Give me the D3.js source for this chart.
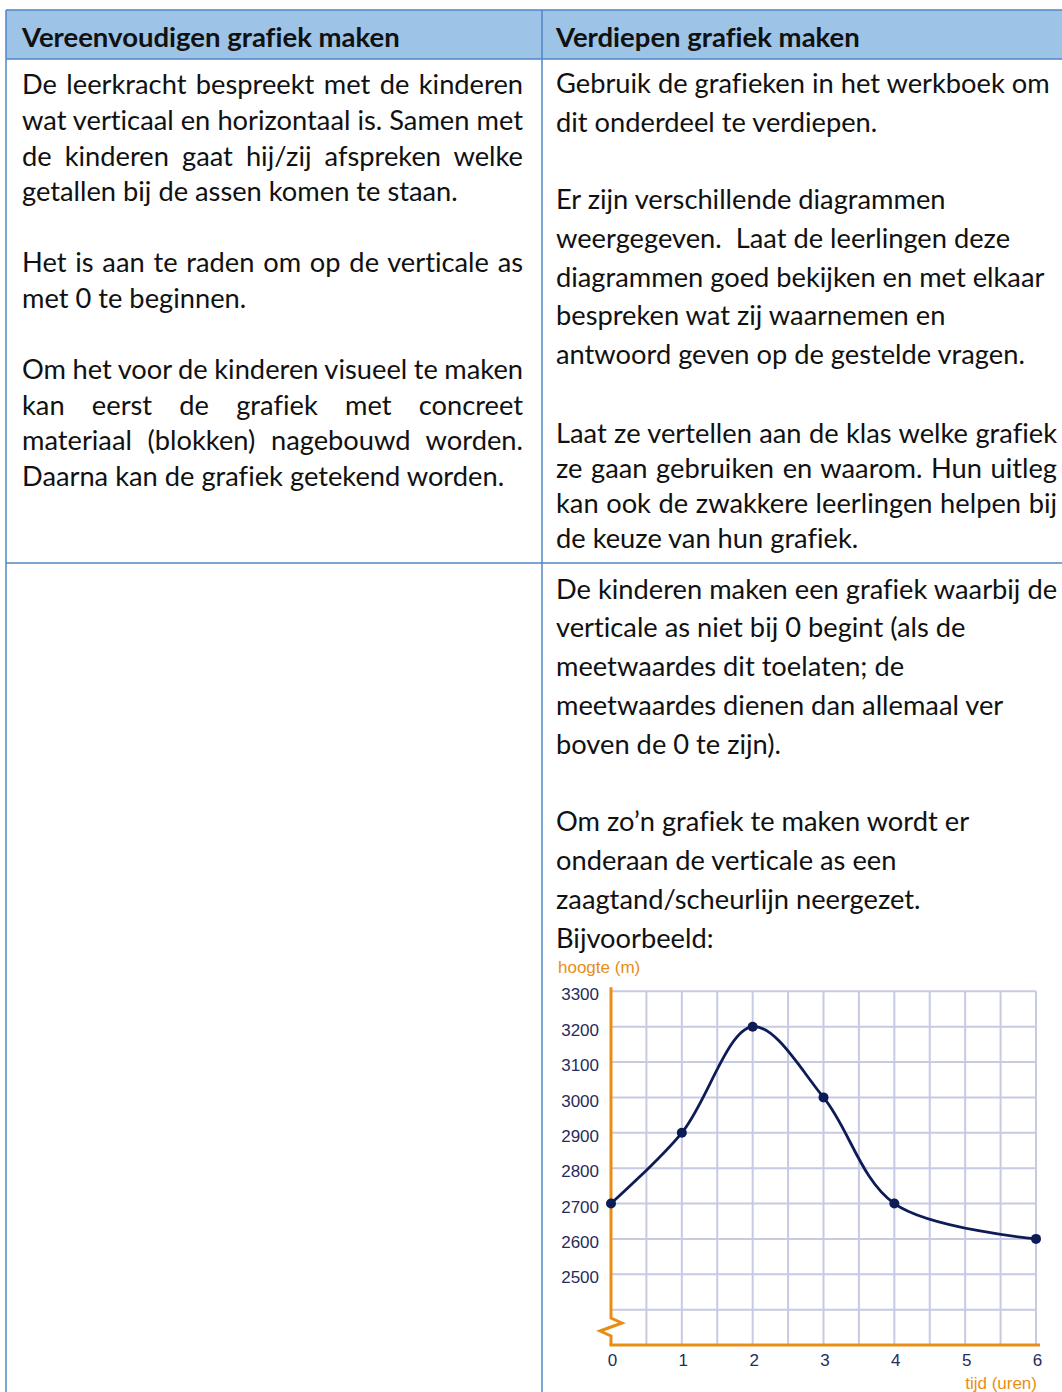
<!DOCTYPE html>
<html>
<head>
<meta charset="utf-8">
<script src="https://cdn.jsdelivr.net/npm/d3@7"></script>
<style>
  html, body { margin: 0; padding: 0; background: #fff; }
  svg { display: block; }
  svg text { font-variant-ligatures: none; }
</style>
</head>
<body>
<div id="page"></div>
<script>
// chart data
var tijd = [0, 1, 2, 3, 4, 6];
var hoogte = [2700, 2900, 3200, 3000, 2700, 2600];
var yTickLabels = [2500, 2600, 2700, 2800, 2900, 3000, 3100, 3200, 3300];
var yGridValues = [2400, 2500, 2600, 2700, 2800, 2900, 3000, 3100, 3200, 3300];
var xTickLabels = [0, 1, 2, 3, 4, 5, 6];
var xGridValues = [0.5, 1, 1.5, 2, 2.5, 3, 3.5, 4, 4.5, 5, 5.5, 6];
var yAxisTitle = 'hoogte (m)';
var xAxisTitle = 'tijd (uren)';

// table text
var headers = ['Vereenvoudigen grafiek maken', 'Verdiepen grafiek maken'];
var leftLines = [
  ['De leerkracht bespreekt met de kinderen', true],
  ['wat verticaal en horizontaal is. Samen met', true],
  ['de kinderen gaat hij/zij afspreken welke', true],
  ['getallen bij de assen komen te staan.', false],
  ['', false],
  ['Het is aan te raden om op de verticale as', true],
  ['met 0 te beginnen.', false],
  ['', false],
  ['Om het voor de kinderen visueel te maken', true],
  ['kan eerst de grafiek met concreet', true],
  ['materiaal (blokken) nagebouwd worden.', true],
  ['Daarna kan de grafiek getekend worden.', false]
];
var rightLinesA = [
  'Gebruik de grafieken in het werkboek om',
  'dit onderdeel te verdiepen.',
  '',
  'Er zijn verschillende diagrammen',
  'weergegeven.\u00a0 Laat de leerlingen deze',
  'diagrammen goed bekijken en met elkaar',
  'bespreken wat zij waarnemen en',
  'antwoord geven op de gestelde vragen.'
];
var rightLinesB = [
  ['Laat ze vertellen aan de klas welke grafiek', true],
  ['ze gaan gebruiken en waarom. Hun uitleg', true],
  ['kan ook de zwakkere leerlingen helpen bij', true],
  ['de keuze van hun grafiek.', false]
];
var rightLinesC = [
  'De kinderen maken een grafiek waarbij de',
  'verticale as niet bij 0 begint (als de',
  'meetwaardes dit toelaten; de',
  'meetwaardes dienen dan allemaal ver',
  'boven de 0 te zijn).',
  '',
  'Om zo\u2019n grafiek te maken wordt er',
  'onderaan de verticale as een',
  'zaagtand/scheurlijn neergezet.',
  'Bijvoorbeeld:'
];

var W = 1062, H = 1392;
var borderColor = '#4f86c6';
var headFill = '#9dc3e6';
var textColor = '#111111';
var orange = '#e88e14';
var navy = '#0d1b57';
var gridColor = '#c6cae2';
var bodyFont = 'Lato, "Open Sans", sans-serif';
var chartFont = '"Liberation Sans", Arial, sans-serif';

var svg = d3.select('#page').append('svg')
  .attr('width', W)
  .attr('height', H);

// table frame
var colLeft = 6, colMid = 542, colRight = 1070;
svg.append('rect')
  .attr('x', colLeft).attr('y', 10)
  .attr('width', colRight - colLeft).attr('height', 49)
  .attr('fill', headFill);

var frame = svg.append('g').attr('stroke', borderColor).attr('stroke-width', 1.5);
frame.append('line').attr('x1', colLeft).attr('x2', colRight).attr('y1', 10).attr('y2', 10);
frame.append('line').attr('x1', colLeft).attr('x2', colRight).attr('y1', 59).attr('y2', 59);
frame.append('line').attr('x1', colLeft).attr('x2', colRight).attr('y1', 563).attr('y2', 563);
frame.append('line').attr('x1', colLeft).attr('x2', colLeft).attr('y1', 10).attr('y2', H);
frame.append('line').attr('x1', colMid).attr('x2', colMid).attr('y1', 10).attr('y2', H);

// calibrate font size against the reference line widths
function fitSize(str, weight, target) {
  var t = svg.append('text').attr('font-family', bodyFont).attr('font-weight', weight)
    .attr('font-size', 100).text(str);
  var w = t.node().getComputedTextLength();
  t.remove();
  return 100 * target / w;
}
var bodySize = fitSize('Gebruik de grafieken in het werkboek om', 400, 494);
var headSize = fitSize('Vereenvoudigen grafiek maken', 700, 378);

svg.selectAll('text.head')
  .data(headers)
  .join('text')
  .attr('class', 'head')
  .attr('x', function (d, i) { return i === 0 ? 22 : 556; })
  .attr('y', 47)
  .attr('font-family', bodyFont)
  .attr('font-weight', 700)
  .attr('font-size', headSize)
  .attr('fill', textColor)
  .text(function (d) { return d; });

function writeLines(lines, x, y0, step, right) {
  lines.forEach(function (l, i) {
    var str = typeof l === 'string' ? l : l[0];
    var just = typeof l === 'string' ? false : l[1];
    if (!str) return;
    var t = svg.append('text')
      .attr('x', x)
      .attr('y', y0 + i * step)
      .attr('font-family', bodyFont)
      .attr('font-size', bodySize)
      .attr('fill', textColor)
      .style('white-space', 'pre')
      .text(str);
    if (just) {
      var gaps = str.split(' ').length - 1;
      var extra = (right - x) - t.node().getComputedTextLength();
      if (gaps > 0) t.style('word-spacing', (extra / gaps) + 'px');
    }
  });
}

writeLines(leftLines, 22, 94.3, 35.6, 523);
writeLines(rightLinesA, 556, 93.2, 38.7, 1057);
writeLines(rightLinesB, 556, 443.3, 35, 1057);
writeLines(rightLinesC, 556, 598.5, 38.8, 1057);

// chart
var x = d3.scaleLinear().domain([0, 6]).range([611, 1036]);
var y = d3.scaleLinear().domain([2300, 3300]).range([1345, 991.3]);

var chart = svg.append('g');

chart.append('g')
  .selectAll('line')
  .data(yGridValues)
  .join('line')
  .attr('x1', x(0)).attr('x2', x(6))
  .attr('y1', function (d) { return y(d); })
  .attr('y2', function (d) { return y(d); })
  .attr('stroke', gridColor).attr('stroke-width', 2);

chart.append('g')
  .selectAll('line')
  .data(xGridValues)
  .join('line')
  .attr('x1', function (d) { return x(d); })
  .attr('x2', function (d) { return x(d); })
  .attr('y1', y(3300)).attr('y2', y(2300))
  .attr('stroke', gridColor).attr('stroke-width', 2);

// y axis with zigzag break
var ax = x(0);
var yAxisPath = d3.path();
yAxisPath.moveTo(ax, y(3300) - 4);
yAxisPath.lineTo(ax, y(2300) - 27);
yAxisPath.lineTo(ax + 11, y(2300) - 22);
yAxisPath.lineTo(ax - 11, y(2300) - 14);
yAxisPath.lineTo(ax, y(2300) - 9);
yAxisPath.lineTo(ax, y(2300));
chart.append('path')
  .attr('d', yAxisPath.toString())
  .attr('fill', 'none')
  .attr('stroke', orange)
  .attr('stroke-width', 3)
  .attr('stroke-linejoin', 'miter');

chart.append('line')
  .attr('x1', ax - 1.5).attr('x2', x(6) + 4)
  .attr('y1', y(2300)).attr('y2', y(2300))
  .attr('stroke', orange).attr('stroke-width', 3);

chart.append('g')
  .selectAll('text')
  .data(yTickLabels)
  .join('text')
  .attr('x', 599)
  .attr('y', function (d) { return y(d) + 3; })
  .attr('dy', '0.36em')
  .attr('text-anchor', 'end')
  .attr('font-family', chartFont)
  .attr('font-size', 17)
  .attr('fill', '#262b5c')
  .text(function (d) { return d; });

chart.append('g')
  .selectAll('text')
  .data(xTickLabels)
  .join('text')
  .attr('x', function (d) { return x(d) + 1.5; })
  .attr('y', 1366)
  .attr('text-anchor', 'middle')
  .attr('font-family', chartFont)
  .attr('font-size', 17)
  .attr('fill', '#262b5c')
  .text(function (d) { return d; });

chart.append('text')
  .attr('x', 558).attr('y', 973)
  .attr('font-family', chartFont)
  .attr('font-size', 17)
  .attr('fill', orange)
  .text(yAxisTitle);

chart.append('text')
  .attr('x', 1037).attr('y', 1389)
  .attr('text-anchor', 'end')
  .attr('font-family', chartFont)
  .attr('font-size', 17)
  .attr('fill', orange)
  .text(xAxisTitle);

var points = tijd.map(function (t, i) { return [t, hoogte[i]]; });

var line = d3.line()
  .x(function (d) { return x(d[0]); })
  .y(function (d) { return y(d[1]); })
  .curve(d3.curveCatmullRom.alpha(0.5));

chart.append('path')
  .datum(points)
  .attr('d', line)
  .attr('fill', 'none')
  .attr('stroke', navy)
  .attr('stroke-width', 2.8);

chart.append('g')
  .selectAll('circle')
  .data(points)
  .join('circle')
  .attr('cx', function (d) { return x(d[0]); })
  .attr('cy', function (d) { return y(d[1]); })
  .attr('r', 5)
  .attr('fill', navy);
</script>
</body>
</html>
